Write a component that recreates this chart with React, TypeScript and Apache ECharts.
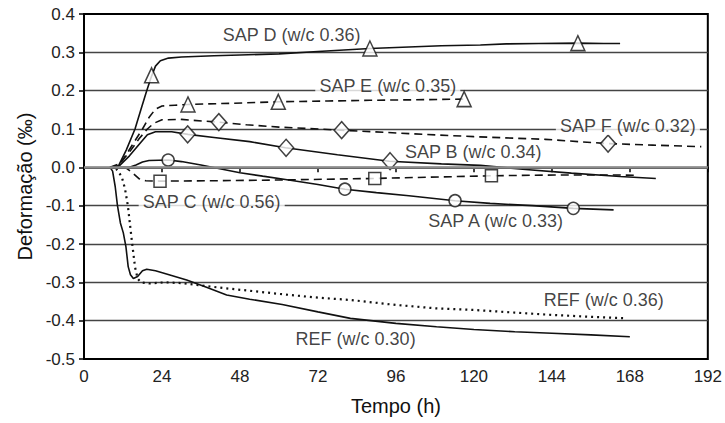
import React, { useEffect, useRef } from "react";
import * as echarts from "echarts";

// Time axis (h) and strain axis (‰)
const xTicks = { min: 0, max: 192, step: 24 };
const yTicks = { min: -0.5, max: 0.4, step: 0.1 };

// Measured autogenous strain curves: [tempo (h), deformação (‰)]
const sapD = [
  [8, 0], [10.5, 0.002], [13, 0.045], [15.7, 0.1], [17.5, 0.15], [19.3, 0.2], [20.8, 0.238],
  [22, 0.264], [23.5, 0.278], [26, 0.285], [30, 0.288], [40, 0.291], [48, 0.293], [60, 0.296],
  [72, 0.302], [80, 0.306], [88, 0.31], [100, 0.314], [110, 0.317], [122, 0.319], [130, 0.322],
  [140, 0.323], [152, 0.324], [160, 0.323], [165, 0.323],
];
const sapE = [
  [8, 0], [10.5, 0.003], [12, 0.02], [15, 0.06], [18, 0.1], [20, 0.13], [22, 0.152], [24, 0.16],
  [28, 0.162], [32, 0.164], [45, 0.167], [60, 0.171], [75, 0.173], [88, 0.175], [100, 0.176],
  [117, 0.178],
];
const sapF = [
  [8, 0], [11, 0.01], [14, 0.04], [17, 0.075], [19.5, 0.1], [21.5, 0.115], [24, 0.124],
  [30, 0.125], [41, 0.118], [50, 0.111], [60, 0.105], [79, 0.097], [100, 0.088], [120, 0.08],
  [142, 0.073], [161, 0.062], [175, 0.058], [190, 0.054],
];
const sapB = [
  [8, 0], [11, 0.005], [14, 0.03], [17, 0.06], [19.5, 0.085], [22, 0.093], [27, 0.093],
  [32, 0.086], [40, 0.078], [51, 0.067], [62, 0.051], [78, 0.033], [94, 0.016], [110, 0.009],
  [122, 0.005], [135, -0.005], [150, -0.015], [165, -0.024], [176, -0.029],
];
const sapC = [
  [8, 0], [13, -0.002], [15, -0.015], [17, -0.03], [19, -0.035], [23.4, -0.036], [40, -0.035],
  [60, -0.033], [89.5, -0.029], [110, -0.025], [125.4, -0.022], [145, -0.02], [165, -0.02],
  [170, -0.021],
];
const sapA = [
  [8, 0], [14, 0.0], [16, 0.006], [18, 0.014], [20, 0.018], [26, 0.019], [30, 0.015],
  [36, 0.006], [48, -0.014], [55, -0.023], [63, -0.033], [72, -0.045], [80.3, -0.057],
  [90, -0.066], [100, -0.074], [114.2, -0.087], [125, -0.094], [138, -0.1], [150.6, -0.107],
  [163, -0.111],
];
const ref030 = [
  [8, 0], [8.8, -0.01], [9.6, -0.05], [10.3, -0.1], [11.2, -0.145], [12.1, -0.171],
  [12.9, -0.207], [13.6, -0.259], [14.3, -0.28], [15.2, -0.29], [16.5, -0.285], [18, -0.27],
  [19.3, -0.266], [22, -0.27], [25.4, -0.278], [31.6, -0.294], [37.7, -0.313], [43.9, -0.333],
  [51, -0.344], [61, -0.358], [72, -0.377], [82, -0.394], [96, -0.407], [108.5, -0.416],
  [120, -0.423], [132.6, -0.429], [144, -0.433], [156, -0.437], [168, -0.442],
];
const ref036 = [
  [8, 0], [10, -0.005], [11.6, -0.024], [12.6, -0.055], [13.5, -0.1], [14.7, -0.19],
  [15.7, -0.26], [16.5, -0.29], [17.5, -0.3], [20, -0.303], [25, -0.3], [30, -0.302],
  [36, -0.308], [43, -0.315], [51, -0.322], [61, -0.331], [72, -0.34], [82, -0.346],
  [96, -0.359], [108.5, -0.368], [120, -0.372], [132.6, -0.379], [144, -0.385], [156, -0.39],
  [167, -0.394],
];

// Marker points placed along each curve
const sapDMarks = [[20.8, 0.24], [88, 0.31], [152, 0.324]];
const sapEMarks = [[32, 0.164], [59.8, 0.171], [117, 0.178]];
const sapFMarks = [[41.5, 0.118], [79.3, 0.097], [161.3, 0.062]];
const sapBMarks = [[31.9, 0.086], [62.2, 0.051], [94.2, 0.016]];
const sapCMarks = [[23.4, -0.036], [89.5, -0.029], [125.4, -0.022]];
const sapAMarks = [[25.9, 0.019], [80.3, -0.057], [114.2, -0.087], [150.6, -0.107]];

// Curve names and where each name sits (data coordinates)
const curveNames = [
  "SAP D (w/c 0.36)", "SAP E (w/c 0.35)", "SAP F (w/c 0.32)", "SAP B (w/c 0.34)",
  "SAP C (w/c 0.56)", "SAP A (w/c 0.33)", "REF (w/c 0.36)", "REF (w/c 0.30)",
];
const nameAnchors = [
  [63.9, 0.345], [93.5, 0.212], [167.4, 0.108], [119.8, 0.039],
  [39.3, -0.09], [126.7, -0.14], [160, -0.346], [83.6, -0.448],
];
const nameMasked = [false, true, true, false, true, false, false, false];

const INK = "#111";
const FONT = "Liberation Sans, Arial, sans-serif";

function curve(name: string, data: number[][], type: any, width = 1.6) {
  return {
    name,
    type: "line",
    data,
    showSymbol: false,
    symbol: "none",
    smooth: false,
    lineStyle: { color: INK, width, type },
    z: 3,
  };
}

function marks(name: string, data: number[][], symbol: string, size: any) {
  return {
    name,
    type: "scatter",
    data,
    symbol,
    symbolSize: size,
    itemStyle: { color: "#fff", borderColor: INK, borderWidth: 1.5 },
    z: 4,
  };
}

export default function App() {
  const ref = useRef<HTMLDivElement>(null);

  useEffect(() => {
    if (!ref.current) return;
    const chart = echarts.init(ref.current, undefined, { renderer: "svg" });
    const dash = [8, 5];
    const dot = [2, 4];

    chart.setOption({
      animation: false,
      backgroundColor: "#fff",
      textStyle: { fontFamily: FONT },
      grid: {
        left: 84,
        top: 14,
        width: 624,
        height: 345,
        show: true,
        borderColor: "#000",
        borderWidth: 2,
        backgroundColor: "transparent",
      },
      xAxis: {
        type: "value",
        min: xTicks.min,
        max: xTicks.max,
        interval: xTicks.step,
        name: "Tempo (h)",
        nameLocation: "middle",
        nameGap: 37,
        nameTextStyle: { fontSize: 20, color: "#111", fontFamily: FONT },
        axisLine: { show: true, lineStyle: { color: "#000", width: 2 } },
        axisTick: { show: true, length: 5, lineStyle: { color: "#000", width: 1.5 } },
        axisLabel: { fontSize: 17, color: "#222", margin: 9, fontFamily: FONT },
        splitLine: { show: false },
      },
      yAxis: {
        type: "value",
        min: yTicks.min,
        max: yTicks.max,
        interval: yTicks.step,
        name: "Deformação (‰)",
        nameLocation: "middle",
        nameRotate: 90,
        nameGap: 46,
        nameTextStyle: { fontSize: 20, color: "#111", fontFamily: FONT },
        axisLine: { show: true, lineStyle: { color: "#000", width: 2 } },
        axisTick: { show: true, length: 5, lineStyle: { color: "#000", width: 1.5 } },
        axisLabel: {
          fontSize: 17,
          color: "#222",
          margin: 9,
          fontFamily: FONT,
          formatter: (v: number) => (Math.abs(v) < 1e-9 ? 0 : v).toFixed(1),
        },
        splitLine: {
          show: true,
          showMinLine: false,
          showMaxLine: false,
          lineStyle: { color: "#444", width: 1.4 },
        },
      },
      series: [
        {
          name: "zero",
          type: "line",
          data: [],
          silent: true,
          z: 2,
          markLine: {
            silent: true,
            symbol: ["none", "none"],
            label: { show: false },
            lineStyle: { color: "#8c8c8c", width: 2.6, type: "solid" },
            data: [{ yAxis: 0 }],
          },
        },
        curve("SAP D", sapD, "solid"),
        curve("SAP E", sapE, dash),
        curve("SAP F", sapF, dash),
        curve("SAP B", sapB, "solid"),
        curve("SAP C", sapC, dash),
        curve("SAP A", sapA, "solid"),
        curve("REF 0.30", ref030, "solid"),
        curve("REF 0.36", ref036, dot, 2.2),
        marks("SAP D", sapDMarks, "triangle", [14, 15]),
        marks("SAP E", sapEMarks, "triangle", [14, 15]),
        marks("SAP F", sapFMarks, "diamond", [15, 17]),
        marks("SAP B", sapBMarks, "diamond", [15, 17]),
        marks("SAP C", sapCMarks, "rect", [12, 12]),
        marks("SAP A", sapAMarks, "circle", [12, 12]),
        {
          name: "names",
          type: "scatter",
          symbol: "circle",
          symbolSize: 0.1,
          itemStyle: { color: "transparent" },
          silent: true,
          z: 5,
          data: curveNames.map((text, i) => ({
            value: nameAnchors[i],
            label: {
              show: true,
              position: "inside",
              formatter: text,
              fontSize: 18,
              color: "#111",
              fontFamily: FONT,
              align: "center",
              verticalAlign: "middle",
              backgroundColor: nameMasked[i] ? "#fff" : "transparent",
              padding: [0, 4],
            },
          })),
        },
      ],
    });

    return () => chart.dispose();
  }, []);

  return (
    <div
      ref={ref}
      style={{ position: "fixed", left: 0, top: 0, width: 725, height: 423, background: "#fff" }}
    />
  );
}
